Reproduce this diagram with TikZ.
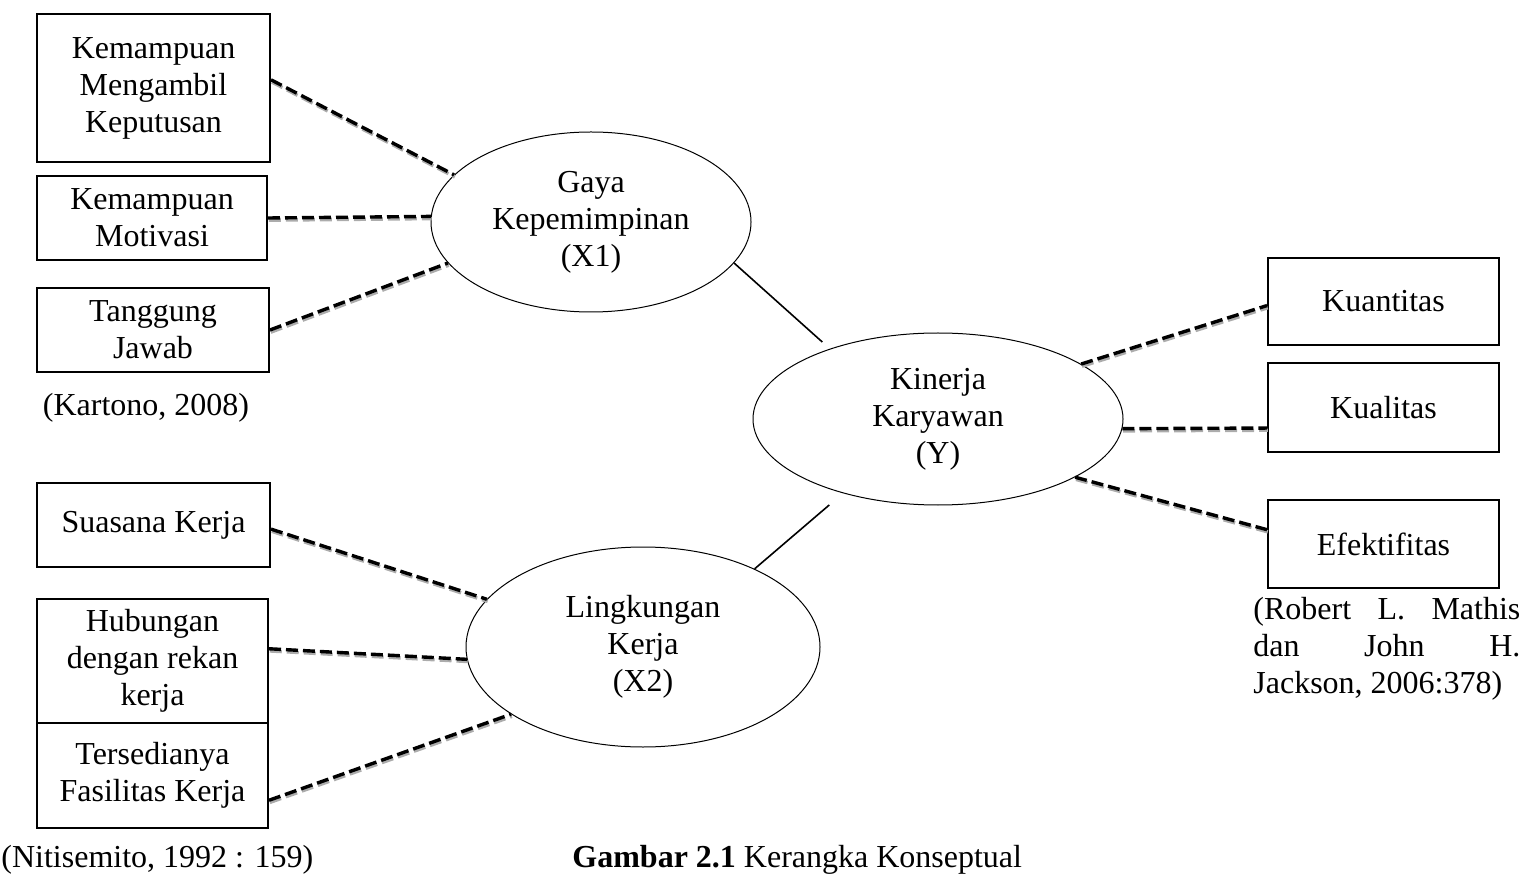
\documentclass[tikz,border=0pt]{standalone}
\usepackage{fontspec}
\setmainfont{Liberation Serif}
\usetikzlibrary{shapes.geometric}

\begin{document}
\begin{tikzpicture}[
        % satu satuan = satu piksel gambar acuan
        x=0.5pt, y=-0.5pt,
        font=\fontsize{16}{18.5}\selectfont,
        % Gaya kotak indikator dan variabel
        indikator/.style={draw, line width=1pt, align=center, inner sep=0pt},
        variabel/.style={draw, ellipse, line width=0.5pt, align=center, inner sep=0pt},
        garis/.style={line width=0.8pt},
        putus/.style={line width=1.7pt, dash pattern=on 6pt off 2.5pt,
            preaction={draw=gray!65, line width=1.7pt, dash pattern=on 6pt off 2.5pt,
                transform canvas={shift={(0.4pt,-1.1pt)}}}}
    ]
    \useasboundingbox (0,0) rectangle (1524,876);

    % ==============================
    % 1. GAYA KEPEMIMPINAN (X1)
    % ==============================
    \node[indikator, minimum width=116.5pt, minimum height=74pt] (kmk) at (153.5,88) {Kemampuan\\Mengambil\\Keputusan};
    \node[indikator, minimum width=115pt, minimum height=42pt] (km) at (152,218) {Kemampuan\\Motivasi};
    \node[indikator, minimum width=116pt, minimum height=42pt] (tj) at (153,330) {Tanggung\\Jawab};
    \node (kartono) at (146,408) {(Kartono, 2008)};

    \node[variabel, minimum width=160pt, minimum height=90pt] (x1) at (591,222) {Gaya\\Kepemimpinan\\(X1)};

    % Indikator ke variabel
    \draw[putus] (kmk.4) -- (x1.161);
    \draw[putus] (km.east) -- (x1.178);
    \draw[putus] (tj.east) -- (x1.196);

    % ==============================
    % 2. LINGKUNGAN KERJA (X2)
    % ==============================
    \node[indikator, minimum width=116.5pt, minimum height=42pt] (sk) at (153.5,525) {Suasana Kerja};
    \node[indikator, minimum width=115.5pt, minimum height=62pt] (hub) at (152.5,661) {Hubungan\\dengan rekan\\kerja};
    \node[indikator, minimum width=115.5pt, minimum height=52.5pt] (tfk) at (152.5,775.5) {Tersedianya\\Fasilitas Kerja};
    \node[anchor=west, inner sep=0pt] (nitisemito) at (1,860) {(Nitisemito, 1992 : 159)};

    \node[variabel, minimum width=177pt, minimum height=100pt] (x2) at (643,647) {Lingkungan\\Kerja\\(X2)};

    % Indikator ke variabel
    \draw[putus] (sk.-2) -- (x2.163);
    \draw[putus] (hub.6) -- (x2.184);
    \draw[putus] (tfk.-12) -- (x2.207);

    % ==============================
    % 3. KINERJA KARYAWAN (Y)
    % ==============================
    \node[variabel, minimum width=185pt, minimum height=86pt] (y) at (938,419) {Kinerja\\Karyawan\\(Y)};

    \node[indikator, minimum width=115.5pt, minimum height=43.5pt] (kuan) at (1383.5,301.5) {Kuantitas};
    \node[indikator, minimum width=115.5pt, minimum height=44.5pt] (kual) at (1383.5,407.5) {Kualitas};
    \node[indikator, minimum width=115.5pt, minimum height=44pt] (efek) at (1383.5,544) {Efektifitas};
    \node[anchor=north west, inner sep=0pt, align=left] (mathis) at (1253,597)
        {\makebox[133.5pt][s]{(Robert L. Mathis}\\\makebox[133.5pt][s]{dan John H.}\\Jackson, 2006:378)};

    % Variabel ke indikator
    \draw[putus] (y.21) -- (kuan.182);
    \draw[putus] (y.-3) -- (kual.190);
    \draw[putus] (y.-23) -- (efek.173);

    % Hubungan antar variabel
    \draw[garis, shorten >=5pt] (x1.-16) -- (y.147);
    \draw[garis, shorten >=9pt] (x2.35) -- (y.218);

    % Judul
    \node[anchor=west, inner sep=0pt] (judul) at (572,860) {\textbf{Gambar 2.1} Kerangka Konseptual};

\end{tikzpicture}
\end{document}
